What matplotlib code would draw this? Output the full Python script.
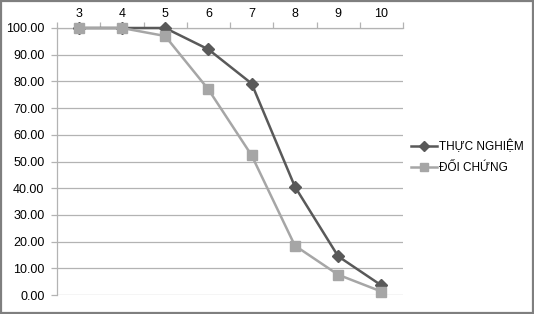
import matplotlib
matplotlib.use("Agg")
import matplotlib.pyplot as plt
from matplotlib.patches import Rectangle
from matplotlib.ticker import FixedLocator, FuncFormatter

categories = ["3", "4", "5", "6", "7", "8", "9", "10"]
thuc_nghiem = [100.0, 100.0, 100.0, 92.0, 79.2, 40.6, 14.5, 3.6]
doi_chung = [100.0, 100.0, 97.0, 77.0, 52.3, 18.5, 7.6, 1.3]
y_ticks = [0, 10, 20, 30, 40, 50, 60, 70, 80, 90, 100]

plt.rcParams['font.family'] = ['Liberation Sans', 'DejaVu Sans']

fig = plt.figure(figsize=(5.34, 3.14), dpi=100)
ax = fig.add_axes([57/534, 1 - 295/314, 346/534, 267/314])

x = list(range(len(categories)))
ax.plot(x, thuc_nghiem, color='#595959', lw=1.8, marker='D', markersize=6,
        markerfacecolor='#595959', markeredgecolor='#595959', zorder=3,
        clip_on=False, label='THỰC NGHIỆM')
ax.plot(x, doi_chung, color='#A6A6A6', lw=1.8, marker='s', markersize=7.5,
        markerfacecolor='#A6A6A6', markeredgecolor='#A6A6A6', zorder=4,
        clip_on=False, label='ĐỐI CHỨNG')

ax.set_xlim(-0.5, len(categories) - 0.5)
ax.set_ylim(0, 100)
ax.set_yticks(y_ticks)
ax.yaxis.set_major_formatter(FuncFormatter(lambda v, p: f"{v:.2f}"))
ax.grid(axis='y', color='#B3B3B3', lw=0.9, zorder=0)

ax.xaxis.tick_top()
ax.set_xticks(x)
ax.set_xticklabels(categories)
ax.xaxis.set_minor_locator(FixedLocator([i - 0.5 for i in range(len(categories) + 1)]))
ax.tick_params(axis='x', which='major', length=0, pad=6, labelsize=9, colors='black')
ax.tick_params(axis='x', which='minor', length=4, width=0.9, color='#B3B3B3', direction='out')
ax.tick_params(axis='y', length=4, width=0.9, color='#B3B3B3', labelsize=9, pad=5)

for s in ['right', 'bottom']:
    ax.spines[s].set_visible(False)
ax.spines['left'].set_color('#B3B3B3')
ax.spines['top'].set_color('#B3B3B3')
ax.spines['left'].set_linewidth(0.9)
ax.spines['top'].set_linewidth(0.9)

fig.legend(loc='center left', bbox_to_anchor=(406/534, 1 - 157/314), frameon=False,
           fontsize=8.5, handlelength=2.2, handletextpad=0.2, labelspacing=0.75,
           borderaxespad=0, markerscale=0.8)

fig.patches.append(Rectangle((0.002, 0.003), 0.996, 0.994, transform=fig.transFigure,
                             fill=False, edgecolor='#7F7F7F', lw=1.6))

fig.savefig('out.png', dpi=100)
